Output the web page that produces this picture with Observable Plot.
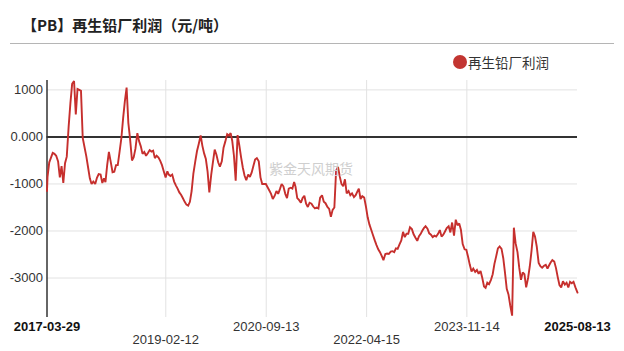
<!DOCTYPE html>
<html><head><meta charset="utf-8">
<script src="https://cdn.jsdelivr.net/npm/d3@7"></script>
<script src="https://cdn.jsdelivr.net/npm/@observablehq/plot@0.6"></script>
<style>
body{margin:0;background:#fff;}
#wrap{position:relative;width:624px;height:351px;overflow:hidden;}
#title{position:absolute;left:22px;top:14px;font-weight:bold;font-size:15px;font-family:"Noto Sans CJK SC",sans-serif;color:#222;white-space:nowrap;line-height:22px;}
#rule{position:absolute;left:10px;top:43px;width:604px;height:1px;background:#b5b5b5;}
#legend{position:absolute;left:453px;top:52px;height:20px;display:flex;align-items:center;font-family:"Noto Sans CJK SC",sans-serif;font-size:13.5px;color:#333;white-space:nowrap;}
#legend .dot{width:14px;height:14px;border-radius:50%;background:#c23531;margin-right:1px;}
#wm{position:absolute;left:269px;top:158px;font-family:"Noto Sans CJK SC",sans-serif;font-size:14px;color:#cfcfcf;white-space:nowrap;}
#chart{position:absolute;left:0;top:0;}
</style></head>
<body>
<div id="wrap">
  <div id="chart"></div>
  <div id="title">【PB】再生铅厂利润（元/吨）</div>
  <div id="rule"></div>
  <div id="legend"><span class="dot"></span><span id="legtext"></span></div>
  <div id="wm">紫金天风期货</div>
</div>
<script>
const seriesName = "再生铅厂利润";
const dates = [
"2017-03-29","2017-04-01","2017-04-11","2017-04-21","2017-05-01","2017-05-11","2017-05-21","2017-06-01","2017-06-11","2017-06-21","2017-07-01","2017-07-11","2017-07-21","2017-08-01","2017-08-11","2017-08-21","2017-09-01","2017-09-11","2017-09-21","2017-10-01","2017-10-11","2017-10-21","2017-11-01","2017-11-11","2017-11-21","2017-12-01","2017-12-11","2017-12-21",
"2018-01-01","2018-01-11","2018-01-21","2018-02-01","2018-02-11","2018-02-21","2018-03-01","2018-03-11","2018-03-21","2018-04-01","2018-04-11","2018-04-21","2018-05-01","2018-05-11","2018-05-21","2018-06-01","2018-06-11","2018-06-21","2018-07-01","2018-07-11","2018-07-21","2018-08-01","2018-08-11","2018-08-21","2018-09-01","2018-09-11","2018-09-21","2018-10-01","2018-10-11","2018-10-21","2018-11-01","2018-11-11","2018-11-21","2018-12-01","2018-12-11","2018-12-21",
"2019-01-01","2019-01-11","2019-01-21","2019-02-01","2019-02-11","2019-02-21","2019-03-01","2019-03-11","2019-03-21","2019-04-01","2019-04-11","2019-04-21","2019-05-01","2019-05-11","2019-05-21","2019-06-01","2019-06-11","2019-06-21","2019-07-01","2019-07-11","2019-07-21","2019-08-01","2019-08-11","2019-08-21","2019-09-01","2019-09-11","2019-09-21","2019-10-01","2019-10-11","2019-10-21","2019-11-01","2019-11-11","2019-11-21","2019-12-01","2019-12-11","2019-12-21",
"2020-01-01","2020-01-11","2020-01-21","2020-02-01","2020-02-11","2020-02-21","2020-03-01","2020-03-11","2020-03-21","2020-04-01","2020-04-11","2020-04-21","2020-05-01","2020-05-11","2020-05-21","2020-06-01","2020-06-11","2020-06-21","2020-07-01","2020-07-11","2020-07-21","2020-08-01","2020-08-11","2020-08-21","2020-09-01","2020-09-11","2020-09-21","2020-10-01","2020-10-11","2020-10-21","2020-11-01","2020-11-11","2020-11-21","2020-12-01","2020-12-11","2020-12-21",
"2021-01-01","2021-01-11","2021-01-21","2021-02-01","2021-02-11","2021-02-21","2021-03-01","2021-03-11","2021-03-21","2021-04-01","2021-04-11","2021-04-21","2021-05-01","2021-05-11","2021-05-21","2021-06-01","2021-06-11","2021-06-21","2021-07-01","2021-07-11","2021-07-21","2021-08-01","2021-08-11","2021-08-21","2021-09-01","2021-09-11","2021-09-21","2021-10-01","2021-10-11","2021-10-21","2021-11-01","2021-11-11","2021-11-21","2021-12-01","2021-12-11","2021-12-21",
"2022-01-01","2022-01-11","2022-01-21","2022-02-01","2022-02-11","2022-02-21","2022-03-01","2022-03-11","2022-03-21","2022-04-01","2022-04-11","2022-04-21","2022-05-01","2022-05-11","2022-05-21","2022-06-01","2022-06-11","2022-06-21","2022-07-01","2022-07-11","2022-07-21","2022-08-01","2022-08-11","2022-08-21","2022-09-01","2022-09-11","2022-09-21","2022-10-01","2022-10-11","2022-10-21","2022-11-01","2022-11-11","2022-11-21","2022-12-01","2022-12-11","2022-12-21",
"2023-01-01","2023-01-11","2023-01-21","2023-02-01","2023-02-11","2023-02-21","2023-03-01","2023-03-11","2023-03-21","2023-04-01","2023-04-11","2023-04-21","2023-05-01","2023-05-11","2023-05-21","2023-06-01","2023-06-11","2023-06-21","2023-07-01","2023-07-11","2023-07-21","2023-08-01","2023-08-11","2023-08-21","2023-09-01","2023-09-11","2023-09-21","2023-10-01","2023-10-11","2023-10-21","2023-11-01","2023-11-11","2023-11-21","2023-12-01","2023-12-11","2023-12-21",
"2024-01-01","2024-01-11","2024-01-21","2024-02-01","2024-02-11","2024-02-21","2024-03-01","2024-03-11","2024-03-21","2024-04-01","2024-04-11","2024-04-21","2024-05-01","2024-05-11","2024-05-21","2024-06-01","2024-06-11","2024-06-21","2024-07-01","2024-07-11","2024-07-21","2024-08-01","2024-08-11","2024-08-21","2024-09-01","2024-09-11","2024-09-21","2024-10-01","2024-10-11","2024-10-21","2024-11-01","2024-11-11","2024-11-21","2024-12-01","2024-12-11","2024-12-21",
"2025-01-01","2025-01-11","2025-01-21","2025-02-01","2025-02-11","2025-02-21","2025-03-01","2025-03-11","2025-03-21","2025-04-01","2025-04-11","2025-04-21","2025-05-01","2025-05-11","2025-05-21","2025-06-01","2025-06-11","2025-06-21","2025-07-01","2025-07-11","2025-07-21","2025-08-01","2025-08-13"
];
const values = [
-1150,-850,-540,-440,-340,-360,-400,-520,-860,-620,-980,-560,-420,230,720,1130,1190,480,1020,1000,980,-20,-230,-420,-650,-880,-1000,-950,
-1000,-870,-790,-800,-980,-880,-960,-600,-320,-540,-750,-740,-600,-600,-330,-20,400,760,1050,300,-40,-500,-430,-250,80,-90,-200,-360,-320,-400,-340,-280,-310,-290,-450,-400,
-440,-510,-600,-740,-860,-730,-800,-830,-800,-950,-1030,-1100,-1180,-1230,-1300,-1380,-1440,-1460,-1380,-1150,-780,-520,-300,-150,30,-190,-350,-470,-740,-1180,-800,-530,-270,-380,-540,-630,
-520,-230,-100,60,30,80,-80,-400,-930,40,-180,-430,-650,-820,-920,-800,-850,-760,-620,-480,-450,-520,-860,-1000,-1000,-1000,-1070,-1140,-1210,-1320,-1250,-1150,-1210,-1110,-1000,-1050,
-1210,-1300,-1100,-1080,-1100,-960,-1060,-1300,-1340,-1400,-1300,-1250,-1420,-1490,-1400,-1420,-1480,-1520,-1500,-1520,-1290,-1240,-1380,-1410,-1490,-1530,-1700,-1550,-1500,-720,-640,-840,-1000,-1050,-900,-1200,
-1150,-1240,-1200,-1280,-1240,-1160,-1100,-1320,-1260,-1290,-1480,-1710,-1860,-1970,-2080,-2200,-2300,-2390,-2450,-2530,-2620,-2490,-2480,-2490,-2440,-2430,-2450,-2370,-2380,-2290,-2200,-2020,-2130,-2060,-2060,-1920,
-1960,-2070,-2140,-2210,-2110,-2060,-2000,-1940,-1900,-1950,-2050,-2080,-2130,-2100,-2120,-2060,-1980,-2120,-2080,-2010,-1940,-1900,-2030,-1820,-2100,-1760,-1880,-1840,-1980,-2280,-2390,-2400,-2550,-2720,-2860,-2800,
-2870,-2830,-2910,-2850,-3000,-3180,-3210,-3100,-3130,-3040,-2920,-2700,-2540,-2370,-2330,-2380,-2580,-2890,-3230,-3350,-3580,-3800,-1930,-2260,-2450,-2780,-3040,-2880,-2920,-3200,-3000,-2750,-2420,-2020,-2120,-2330,
-2680,-2750,-2780,-2740,-2720,-2800,-2740,-2670,-2620,-2650,-2790,-2980,-3150,-3200,-3070,-3140,-3100,-3200,-3080,-3110,-3080,-3200,-3310
];
const xTicks = ["2017-03-29","2019-02-12","2020-09-13","2022-04-15","2023-11-14","2025-08-13"];
const yTicks = [1000, 0, -1000, -2000, -3000];
const yTickLabels = ["1000", "0.000", "-1000", "-2000", "-3000"];

document.getElementById("legtext").textContent = seriesName;

const parse = d3.utcParse("%Y-%m-%d");
const data = dates.map((d, i) => ({date: parse(d), value: values[i]}));
const tickDates = xTicks.map(parse);
const innerTicks = tickDates.slice(1, -1);
const endTicks = [tickDates[0], tickDates[tickDates.length - 1]];
const row1 = [tickDates[2], tickDates[4]];
const row2 = [tickDates[1], tickDates[3]];
const fmt = d3.utcFormat("%Y-%m-%d");

const chart = Plot.plot({
  width: 624, height: 351,
  marginLeft: 46.5, marginRight: 47, marginTop: 80, marginBottom: 34,
  x: {type: "utc", domain: endTicks, axis: null},
  y: {domain: [-3840, 1200], axis: null},
  style: {background: "transparent", fontFamily: "'Liberation Sans', Arial, sans-serif", fontSize: "13px", color: "#333"},
  marks: [
    Plot.ruleY(yTicks.filter(v => v !== 0), {stroke: "#e2e2e2", strokeWidth: 1}),
    Plot.ruleX(innerTicks, {stroke: "#e2e2e2", strokeWidth: 1}),
    Plot.ruleY([0], {stroke: "#333", strokeWidth: 2}),
    Plot.ruleX([tickDates[0]], {stroke: "#333", strokeWidth: 1.5}),
    Plot.line(data, {x: "date", y: "value", stroke: "#c62f2d", strokeWidth: 1.9, strokeLinejoin: "miter", strokeMiterlimit: 2}),
    Plot.text(yTicks, {y: d => d, text: (d, i) => yTickLabels[i], frameAnchor: "left", textAnchor: "end", dx: -4, fill: "#333"}),
    Plot.text(endTicks, {x: d => d, text: d => fmt(d), frameAnchor: "bottom", dy: 13, fontWeight: "bold", fill: "#111"}),
    Plot.text(row1, {x: d => d, text: d => fmt(d), frameAnchor: "bottom", dy: 13, fill: "#333"}),
    Plot.text(row2, {x: d => d, text: d => fmt(d), frameAnchor: "bottom", dy: 26, fill: "#333"})
  ]
});
document.getElementById("chart").appendChild(chart);
</script>
</body></html>
